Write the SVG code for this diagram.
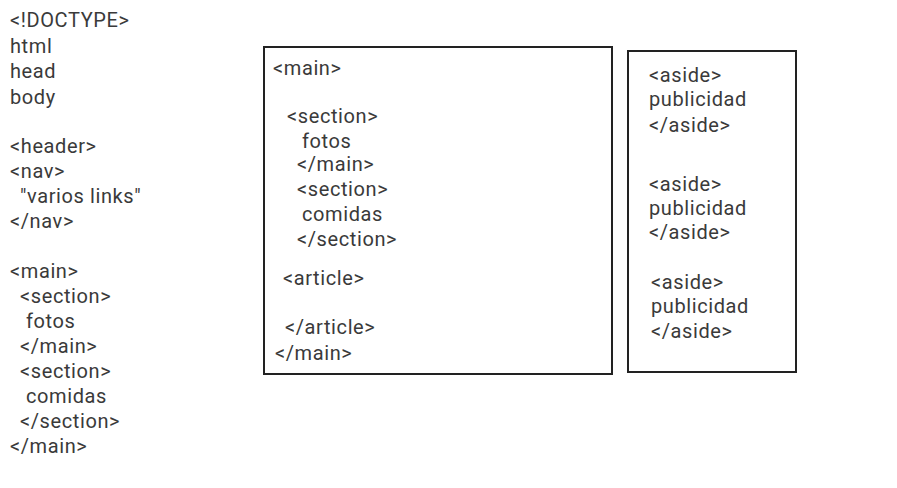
<svg xmlns="http://www.w3.org/2000/svg" width="897" height="488" viewBox="0 0 897 488">
<style>
text{font-family:Roboto,"Liberation Sans",sans-serif;font-size:20px;letter-spacing:0.6px;fill:#3a3a3a}
.box{fill:none;stroke:#222;stroke-width:2}
</style>
<rect width="897" height="488" fill="#fff"/>
<g id="code-left">
<text x="10" y="26.5">&lt;!DOCTYPE&gt;</text>
<text x="10" y="52.5">html</text>
<text x="10" y="78">head</text>
<text x="10" y="103.5">body</text>
<text x="10" y="153">&lt;header&gt;</text>
<text x="10" y="178">&lt;nav&gt;</text>
<text x="20" y="203">"varios links"</text>
<text x="10" y="228">&lt;/nav&gt;</text>
<text x="10" y="278">&lt;main&gt;</text>
<text x="20" y="303">&lt;section&gt;</text>
<text x="26" y="328">fotos</text>
<text x="20" y="353">&lt;/main&gt;</text>
<text x="20" y="378">&lt;section&gt;</text>
<text x="26" y="403">comidas</text>
<text x="20" y="428">&lt;/section&gt;</text>
<text x="10" y="453">&lt;/main&gt;</text>
</g>
<g id="main-box">
<rect class="box" x="264" y="47" width="348" height="327"/>
<text x="273" y="75">&lt;main&gt;</text>
<text x="287" y="123">&lt;section&gt;</text>
<text x="302" y="148">fotos</text>
<text x="297" y="171">&lt;/main&gt;</text>
<text x="297" y="196">&lt;section&gt;</text>
<text x="302" y="221">comidas</text>
<text x="297" y="246">&lt;/section&gt;</text>
<text x="283" y="285">&lt;article&gt;</text>
<text x="285" y="334">&lt;/article&gt;</text>
<text x="275" y="360">&lt;/main&gt;</text>
</g>
<g id="aside-box">
<rect class="box" x="628" y="51" width="168" height="321"/>
<text x="649" y="82">&lt;aside&gt;</text>
<text x="649" y="106">publicidad</text>
<text x="649" y="132">&lt;/aside&gt;</text>
<text x="649" y="191">&lt;aside&gt;</text>
<text x="649" y="215">publicidad</text>
<text x="649" y="239">&lt;/aside&gt;</text>
<text x="651" y="289">&lt;aside&gt;</text>
<text x="651" y="313">publicidad</text>
<text x="651" y="338">&lt;/aside&gt;</text>
</g>
</svg>
